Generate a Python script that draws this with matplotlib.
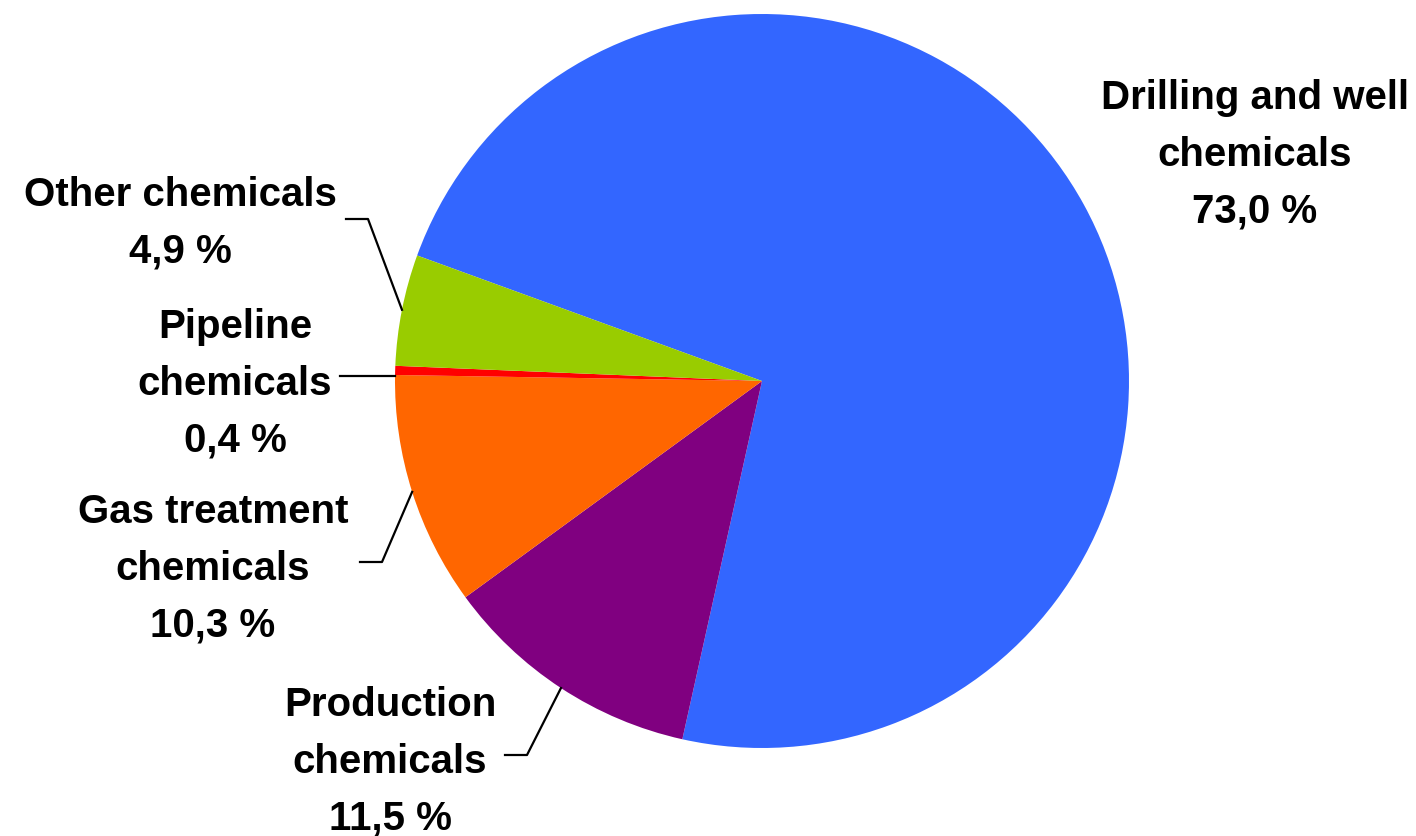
import numpy as np
import matplotlib
matplotlib.use("Agg")
import matplotlib.pyplot as plt

categories = ["Drilling and well\nchemicals", "Production\nchemicals", "Gas treatment\nchemicals",
              "Pipeline\nchemicals", "Other chemicals"]
values = [73.0, 11.5, 10.3, 0.4, 4.9]
value_labels = ["73,0 %", "11,5 %", "10,3 %", "0,4 %", "4,9 %"]
colors = ["#3366FF", "#800080", "#FF6600", "#FF0000", "#99CC00"]

W, H = 1416, 837
fig = plt.figure(figsize=(W / 100, H / 100), dpi=100)
ax = fig.add_axes([0, 0, 1, 1])

cx, cy, R = 762, H - 382, 367
wedges, _ = ax.pie(values, colors=colors, startangle=160, counterclock=False,
                   center=(cx, cy), radius=R, frame=True,
                   wedgeprops=dict(linewidth=0))
ax.set_xlim(0, W)
ax.set_ylim(0, H)
ax.set_aspect("equal")
ax.axis("off")

font = dict(family=["Liberation Sans", "DejaVu Sans"], fontweight="bold", fontsize=29,
            ha="center", va="center", linespacing=1.62)

label_pos = [(1255, 155), (390, 762), (213, 569), (235, 384), (180, 223)]
label_text = [f"{c}\n{v}" for c, v in zip(categories, value_labels)]
for (x, y), t in zip(label_pos, label_text):
    ax.text(x, H - y, t, **font)

# leader lines: (start x of horizontal, y, elbow x) for wedges 1..4
leaders = {1: (505, 756, 527), 2: (360, 563, 382), 3: (340, 377, None), 4: (346, 220, 368)}
for i, (x0, y0, xe) in leaders.items():
    w = wedges[i]
    if xe is None:
        dy = (H - y0) - cy
        px = cx - np.sqrt(R ** 2 - dy ** 2)
        ax.plot([x0, px], [H - y0, H - y0], color="black", lw=1.6)
    else:
        mid = np.deg2rad((w.theta1 + w.theta2) / 2)
        px, py = cx + R * np.cos(mid), cy + R * np.sin(mid)
        ax.plot([x0, xe, px], [H - y0, H - y0, py], color="black", lw=1.6)

fig.savefig("out.png", dpi=100)
